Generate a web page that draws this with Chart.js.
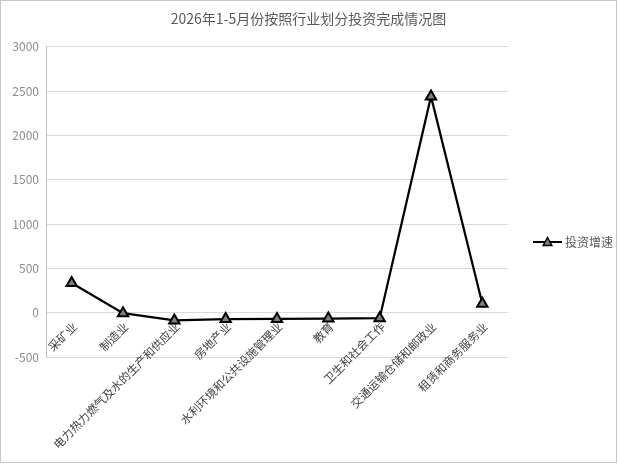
<!DOCTYPE html>
<html>
<head>
<meta charset="utf-8">
<title>2026年1-5月份按照行业划分投资完成情况图</title>
<script src="https://cdn.jsdelivr.net/npm/chart.js@4/dist/chart.umd.min.js"></script>
<style>
  body { margin: 0; background: #fff; }
  #box { position: absolute; left: 0; top: 0; width: 615px; height: 461px; border: 1px solid #c8c8c8; }
</style>
</head>
<body>
<div id="box"><canvas id="chart"></canvas></div>
<script>
// industries (x axis)
var categories = ['采矿业', '制造业', '电力热力燃气及水的生产和供应业', '房地产业', '水利环境和公共设施管理业',
                  '教育', '卫生和社会工作', '交通运输仓储和邮政业', '租赁和商务服务业'];
// investment growth
var growth = [335, -5, -88, -72, -70, -66, -62, 2440, 100];
var seriesName = '投资增速';
var titleText = '2026年1-5月份按照行业划分投资完成情况图';
var yTicks = { min: -500, max: 3000, step: 500 };

var FONT = '"Noto Sans CJK SC", "Noto Sans", sans-serif';

// legend on the right: a line with a triangle marker, like the series
var sideLegend = {
  id: 'sideLegend',
  afterDraw: function (chart) {
    var ctx = chart.ctx;
    var y = 241;
    ctx.save();
    ctx.strokeStyle = '#000';
    ctx.lineWidth = 2;
    ctx.beginPath();
    ctx.moveTo(532, y);
    ctx.lineTo(561, y);
    ctx.stroke();
    ctx.fillStyle = '#7f7f7f';
    ctx.lineWidth = 1.5;
    ctx.beginPath();
    ctx.moveTo(546.5, y - 4.5);
    ctx.lineTo(550.8, y + 3.5);
    ctx.lineTo(542.2, y + 3.5);
    ctx.closePath();
    ctx.fill();
    ctx.stroke();
    ctx.fillStyle = '#595959';
    ctx.font = '12px ' + FONT;
    ctx.textBaseline = 'middle';
    ctx.fillText(seriesName, 564, y);
    ctx.restore();
  }
};

new Chart(document.getElementById('chart'), {
  type: 'line',
  data: {
    labels: categories,
    datasets: [{
      label: seriesName,
      data: growth,
      borderColor: '#000',
      borderWidth: 2.25,
      tension: 0,
      pointStyle: 'triangle',
      pointRadius: 6,
      pointBorderWidth: 2,
      pointBackgroundColor: '#7f7f7f',
      pointBorderColor: '#000'
    }]
  },
  options: {
    responsive: true,
    maintainAspectRatio: false,
    animation: false,
    layout: { padding: { left: 0, right: 0, top: 0, bottom: 105 } },
    plugins: {
      legend: { display: false },
      tooltip: { enabled: false },
      title: {
        display: true,
        text: titleText,
        color: '#595959',
        font: { family: FONT, size: 14, weight: 'normal' },
        padding: { top: 9, bottom: 20 }
      }
    },
    scales: {
      x: {
        type: 'category',
        position: { y: 0 },
        offset: true,
        grid: { display: false, drawTicks: false },
        border: { display: false },
        ticks: {
          autoSkip: false,
          minRotation: 45,
          maxRotation: 45,
          padding: 7,
          labelOffset: 3,
          color: '#404040',
          font: { family: FONT, size: 11.5 }
        }
      },
      y: {
        min: yTicks.min,
        max: yTicks.max,
        afterFit: function (scale) { scale.width = 45; },
        grid: { color: '#d9d9d9', drawTicks: false },
        border: { display: true, color: '#bfbfbf' },
        ticks: {
          stepSize: yTicks.step,
          padding: 7,
          color: '#8c8c8c',
          font: { family: FONT, size: 12 },
          callback: function (v) { return String(v); }
        }
      },
      // empty right-hand box that keeps room for the legend
      side: {
        type: 'linear',
        position: 'right',
        display: true,
        afterFit: function (scale) { scale.width = 108; },
        grid: { display: false, drawTicks: false },
        border: { display: false },
        ticks: { display: false }
      }
    }
  },
  plugins: [sideLegend]
});
</script>
</body>
</html>
